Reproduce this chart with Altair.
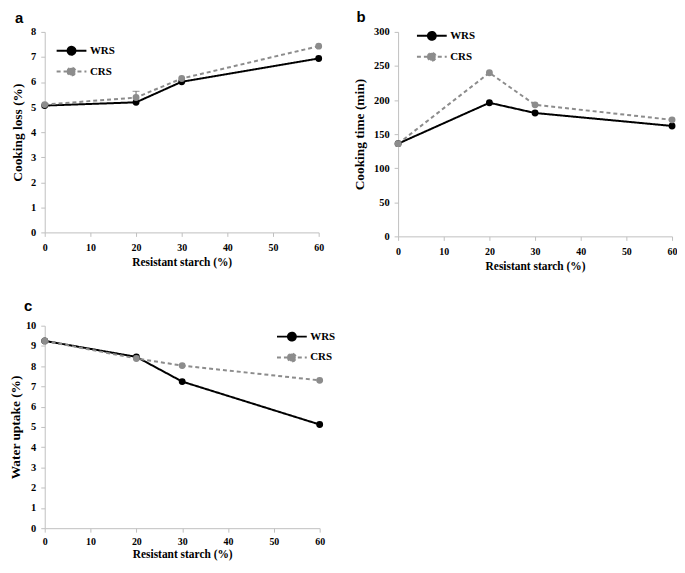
import altair as alt
import pandas as pd

# ---- data ----
starch = [0, 20, 30, 60]
series_names = ["WRS", "CRS"]
series_colors = ["black", "#8c8c8c"]
series_dashes = [[1, 0], [4, 3]]
panel_letters = ["a", "b", "c"]

loss_wrs = [5.06, 5.19, 6.01, 6.94]
loss_crs = [5.10, 5.38, 6.14, 7.43]
time_wrs = [136, 196, 181, 162]
time_crs = [136, 240, 193, 171]
uptake_wrs = [9.25, 8.46, 7.24, 5.12]
uptake_crs = [9.25, 8.38, 8.03, 7.30]

# error bar visible in panel a (CRS at 20 %)
err_x = [20]
err_lo = [5.38]
err_hi = [5.63]

x_ticks = [0, 10, 20, 30, 40, 50, 60]
loss_ticks = [0, 1, 2, 3, 4, 5, 6, 7, 8]
time_ticks = [0, 50, 100, 150, 200, 250, 300]
uptake_ticks = [0, 1, 2, 3, 4, 5, 6, 7, 8, 9, 10]

SERIF = "Liberation Serif"
GRAY_AXIS = "#bfbfbf"

color_scale = alt.Scale(domain=series_names, range=series_colors)
dash_scale = alt.Scale(domain=series_names, range=series_dashes)

LEG_PATH = "M-2,0H2M-0.53,0A0.53,0.53 0 1,1 0.53,0A0.53,0.53 0 1,1 -0.53,0Z"


def make_df(w, c):
    rows = []
    for name, vals in zip(series_names, [w, c]):
        for xv, yv in zip(starch, vals):
            rows.append({"x": xv, "y": yv, "series": name})
    return pd.DataFrame(rows)


def make_legend(leg_x, leg_y):
    return alt.Legend(
        title=None, orient="none", legendX=leg_x, legendY=leg_y,
        symbolType=LEG_PATH, symbolSize=225, symbolStrokeWidth=2,
        symbolOpacity=1,
        labelFont=SERIF, labelFontWeight="bold", labelFontSize=11,
        labelColor="black", labelOffset=10,
    )


def panel(w, c, ytitle, yticks, letter, let_x, let_y, leg_x, leg_y,
          width, height, ytp, xtp, xlp, err=None):
    df = make_df(w, c)
    x_axis = alt.Axis(values=x_ticks, title="Resistant starch (%)",
                      labelPadding=xlp, titlePadding=xtp)
    y_axis = alt.Axis(values=yticks, title=ytitle, labelPadding=5,
                      titlePadding=ytp)
    xs = alt.Scale(domain=[0, 60], nice=False)
    ys = alt.Scale(domain=[yticks[0], yticks[-1]], nice=False)
    x = alt.X("x:Q", scale=xs, axis=x_axis)
    y = alt.Y("y:Q", scale=ys, axis=y_axis)
    lines = alt.Chart(df).mark_line(strokeWidth=2).encode(
        x=x, y=y,
        color=alt.Color("series:N", scale=color_scale, sort=series_names,
                        legend=make_legend(leg_x, leg_y)),
        strokeDash=alt.StrokeDash("series:N", scale=dash_scale, sort=series_names,
                                  legend=make_legend(leg_x, leg_y)),
    )
    pts = alt.Chart(df).mark_circle(size=48, opacity=1).encode(
        x=x, y=y,
        color=alt.Color("series:N", scale=color_scale, sort=series_names,
                        legend=make_legend(leg_x, leg_y)),
    )
    lab = alt.Chart(pd.DataFrame({"letter": [letter]})).mark_text(
        align="left", baseline="alphabetic", font="Liberation Sans",
        fontSize=15, fontWeight="bold", color="black",
    ).encode(x=alt.value(let_x), y=alt.value(let_y), text="letter:N")
    layers = [lines, pts, lab]
    if err is not None:
        edf = pd.DataFrame({"x": err[0], "lo": err[1], "hi": err[2]})
        rule = alt.Chart(edf).mark_rule(color="#666", strokeWidth=1).encode(
            x=alt.X("x:Q", scale=xs, axis=x_axis),
            y=alt.Y("lo:Q", scale=ys, axis=y_axis), y2="hi:Q")
        cap = alt.Chart(edf).mark_tick(color="#666", thickness=1, size=7,
                                       orient="horizontal").encode(
            x=alt.X("x:Q", scale=xs, axis=x_axis),
            y=alt.Y("hi:Q", scale=ys, axis=y_axis))
        layers = [rule, cap, lines, pts, lab]
    return alt.layer(*layers).properties(width=width, height=height)


pa = panel(loss_wrs, loss_crs, "Cooking loss (%)", loss_ticks, panel_letters[0],
           -30, -9, 18.5, 10.5, 276, 202, 6, 4, 6,
           err=(err_x, err_lo, err_hi))
pb = panel(time_wrs, time_crs, "Cooking time (min)", time_ticks, panel_letters[1],
           -42, -10, 25.5, -4.5, 276, 206, 7, 4, 6)
pc = panel(uptake_wrs, uptake_crs, "Water uptake (%)", uptake_ticks, panel_letters[2],
           -21, -15, 240.5, 2.5, 277, 204, 3, 3, 4)

chart = alt.concat(pa, pb, pc, columns=2, spacing={"row": 90, "column": 79},
                   bounds="flush").resolve_scale(
    color="independent", strokeDash="independent", x="independent", y="independent"
).resolve_legend(strokeDash="independent", color="independent").configure(
    padding={"left": 0, "top": 0, "right": 0, "bottom": 0},
    background="white",
).configure_view(stroke=None).configure_legend(
    rowPadding=4, padding=0
).configure_axis(
    grid=False, domainColor=GRAY_AXIS, tickColor=GRAY_AXIS, tickSize=4,
    domainWidth=1, labelFont=SERIF, labelFontWeight="bold",
    labelColor="black", labelFlush=False, labelOverlap=False,
    titleFont=SERIF, titleFontWeight="bold", titleColor="black",
).configure_axisX(labelFontSize=10, titleFontSize=11.5).configure_axisY(
    labelFontSize=10.5, titleFontSize=13.5)

chart.save("out.html", embed_options={"renderer": "svg", "actions": False})
